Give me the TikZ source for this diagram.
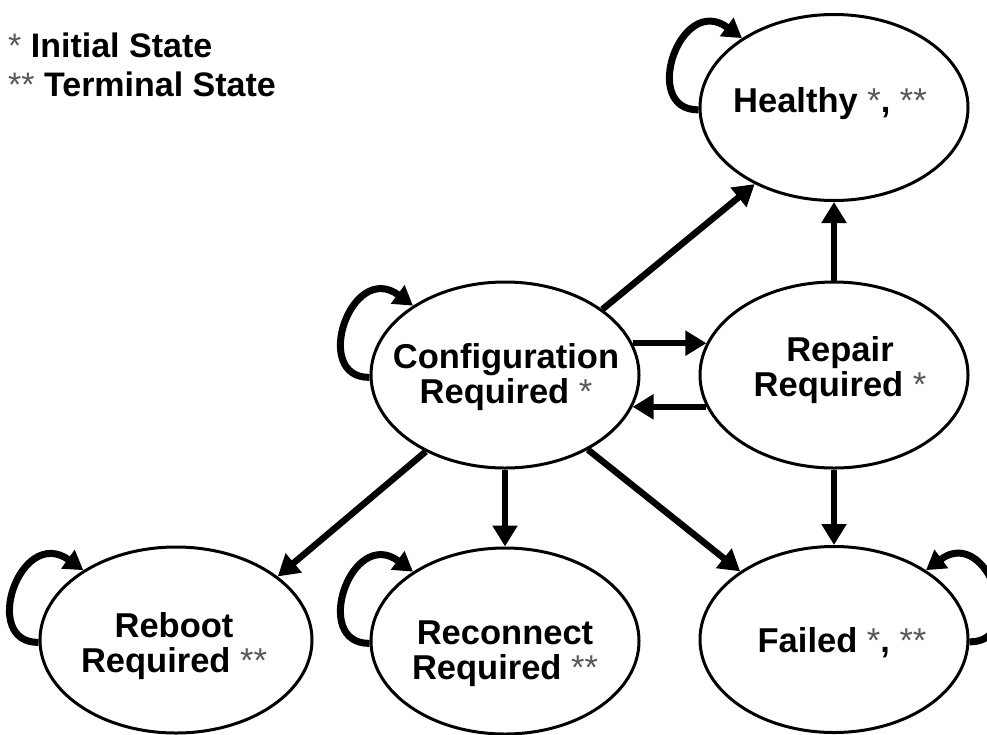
\documentclass[tikz,border=0pt]{standalone}
\usepackage{fontspec}
\setmainfont{Liberation Sans}
\usetikzlibrary{arrows.meta,calc,shapes.geometric}
\newcommand\stm[1]{{\mdseries\color{black!65}#1}}
\begin{document}
\begin{tikzpicture}[x=1pt,y=-1pt,
  state/.style={ellipse,draw,line width=3pt,minimum width=268pt,minimum height=186pt,inner sep=0pt},
  txt/.style={font=\fontsize{34.5}{35}\selectfont\bfseries,align=center,inner sep=0pt},
  lgd/.style={font=\fontsize{34}{39}\selectfont\bfseries,inner sep=0pt,anchor=base west},
  arr/.style={line width=6.5pt,-{Triangle[length=21pt,width=24pt]}},
  lp/.style={line width=7pt,-{Triangle[length=19pt,width=22pt]}},
]
\path[fill=white] (0,0) rectangle (987,734);
\useasboundingbox (0,0) rectangle (987,734);

% states
\node[state] (h) at (834,107.5) {};
\node[state] (c) at (505,375) {};
\node[state] (r) at (834,375) {};
\node[state,minimum width=272pt] (rb) at (176,640) {};
\node[state] (rc) at (505,641) {};
\node[state] (f) at (834,639.5) {};

% labels
\node[txt] (ht) at (830,104) {Healthy \stm{*}, \stm{**}};
\node[txt] (ct) at (506,377.5) {Configuration\\Required \stm{*}};
\node[txt] (rt) at (840,370.5) {Repair\\Required \stm{*}};
\node[txt] (rbt) at (174,646.5) {Reboot\\Required \stm{**}};
\node[txt] (rct) at (505,653.5) {Reconnect\\Required \stm{**}};
\node[txt] (ft) at (842,643) {Failed \stm{*}, \stm{**}};

% legend
\node[lgd] (l1) at (8,57) {\stm{*} Initial State};
\node[lgd] (l2) at (8,96) {\stm{**} Terminal State};

% transitions
\draw[arr] (c.34) -- (h.224);
\draw[arr] (c.14) -- (r.166);
\draw[arr] (r.194) -- (c.346);
\draw[arr] (r.north) -- (h.south);
\draw[arr] (r.south) -- (f.north);
\draw[arr] (c.south) -- (rc.north);
\draw[arr] (c.224) -- (rb.32);
\draw[arr] (c.318) -- (f.144);

% self loops
\draw[lp] (h.181) .. controls ($(h)+(-194,3)$) and ($(h)+(-154,-115)$) .. (h.143);
\draw[lp] (c.181) .. controls ($(c)+(-194,3)$) and ($(c)+(-154,-115)$) .. (c.143);
\draw[lp] (rb.181) .. controls ($(rb)+(-196,3)$) and ($(rb)+(-156,-115)$) .. (rb.143);
\draw[lp] (rc.181) .. controls ($(rc)+(-194,3)$) and ($(rc)+(-154,-115)$) .. (rc.143);
\draw[lp] (f.359) .. controls ($(f)+(194,3)$) and ($(f)+(154,-115)$) .. (f.37);
\end{tikzpicture}
\end{document}
